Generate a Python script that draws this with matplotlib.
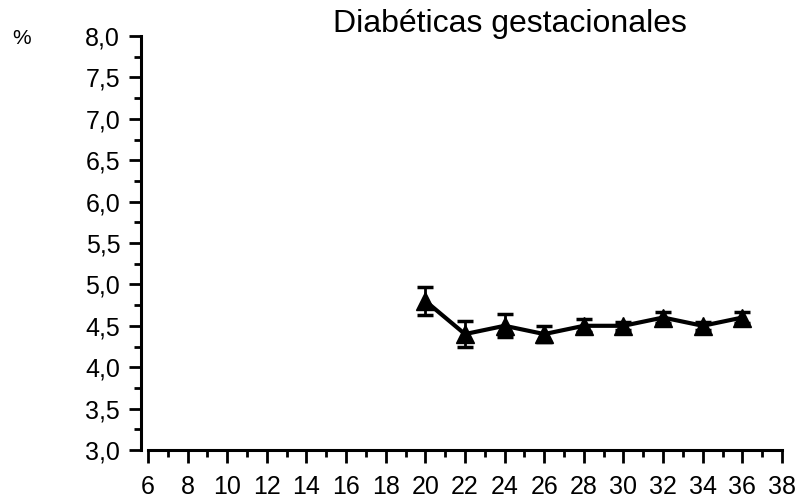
import matplotlib
matplotlib.use("Agg")
import matplotlib.pyplot as plt
from matplotlib.ticker import MultipleLocator, FuncFormatter

# semanas de gestación y valores (%)
weeks = [20, 22, 24, 26, 28, 30, 32, 34, 36]
values = [4.8, 4.4, 4.5, 4.4, 4.5, 4.5, 4.6, 4.5, 4.6]
errors = [0.17, 0.16, 0.14, 0.10, 0.08, 0.05, 0.07, 0.05, 0.07]
x_ticks = list(range(6, 39, 2))
y_ticks = [3.0, 3.5, 4.0, 4.5, 5.0, 5.5, 6.0, 6.5, 7.0, 7.5, 8.0]

plt.rcParams["font.family"] = ["Liberation Sans", "DejaVu Sans"]

fig = plt.figure(figsize=(7.99, 5.03), dpi=100)
ax = fig.add_axes([141 / 799, 53 / 503, 643 / 799, 414 / 503])

ax.errorbar(weeks, values, yerr=errors, color="black", lw=3, marker="^",
            markersize=13, capsize=6, elinewidth=2, capthick=2.5)

ax.set_xlim(5.65, 38.1)
ax.set_ylim(3.0, 8.0)
for s in ("top", "right"):
    ax.spines[s].set_visible(False)
ax.spines["left"].set_bounds(3.0, 8.0)
ax.spines["bottom"].set_bounds(6, 38)
ax.spines["left"].set_linewidth(2.2)
ax.spines["bottom"].set_linewidth(2.2)

ax.set_xticks(x_ticks)
ax.xaxis.set_minor_locator(MultipleLocator(1))
ax.set_yticks(y_ticks)
ax.yaxis.set_minor_locator(MultipleLocator(0.25))
ax.yaxis.set_major_formatter(FuncFormatter(lambda v, p: f"{v:.1f}".replace(".", ",")))
ax.tick_params(which="major", length=9, width=2, labelsize=18)
ax.tick_params(which="minor", length=5, width=2)
ax.tick_params(axis="x", which="major", pad=9)
ax.tick_params(axis="y", which="major", pad=6)

fig.text(510 / 799, 1 - 24 / 503, "Diabéticas gestacionales", ha="center", va="center", fontsize=23)
fig.text(12 / 799, 1 - 38 / 503, "%", ha="left", va="center", fontsize=15)

fig.savefig("out.png", dpi=100)
